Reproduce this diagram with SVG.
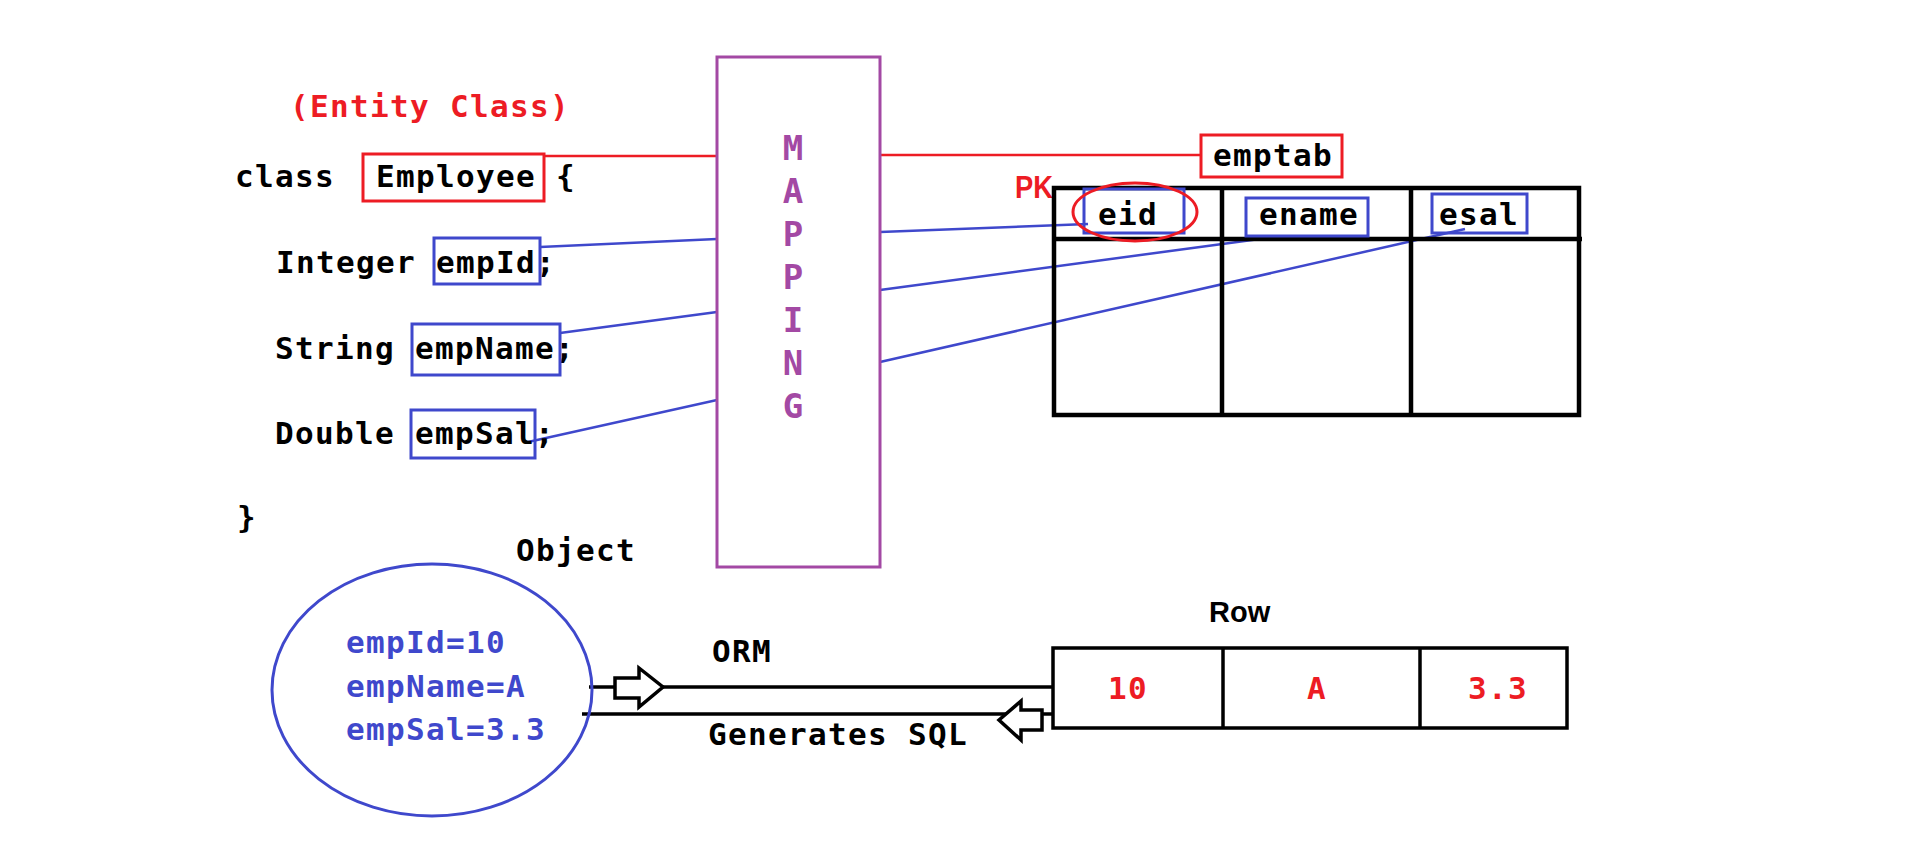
<svg xmlns="http://www.w3.org/2000/svg" width="1914" height="841" viewBox="0 0 1914 841">
<style>
.t{font-family:"DejaVu Sans Mono","Liberation Mono",monospace;font-weight:bold;font-size:31px;letter-spacing:1.34px;fill:#000}
.red{fill:#ed1c24}
.blue{fill:#3f48cc}
.sans{font-family:"Liberation Sans","Noto Sans",sans-serif;font-weight:bold;letter-spacing:0}
.rbox{fill:none;stroke:#ed1c24;stroke-width:3}
.bbox{fill:none;stroke:#3f48cc;stroke-width:3}
.bl{fill:none;stroke:#3f48cc;stroke-width:2.5}
.rl{fill:none;stroke:#ed1c24;stroke-width:2.5}
.k{fill:none;stroke:#000;stroke-width:3.5}
.tk{fill:none;stroke:#000;stroke-width:4.5}
.arr{fill:#fff;stroke:#000;stroke-width:3.5;stroke-linejoin:miter}
.map{font-family:"DejaVu Sans Mono","Liberation Mono",monospace;font-weight:bold;font-size:34px;fill:#a349a4;text-anchor:middle}
</style>
<rect width="1914" height="841" fill="#fff"/>

<g id="connectors">
  <line class="rl" x1="544" y1="156" x2="717" y2="156"/>
  <line class="rl" x1="880" y1="155" x2="1200" y2="155"/>
  <line class="bl" x1="540" y1="247" x2="717" y2="239"/>
  <line class="bl" x1="560" y1="333" x2="717" y2="312"/>
  <line class="bl" x1="528" y1="442" x2="717" y2="400"/>
  <line class="bl" x1="880" y1="232" x2="1088" y2="224"/>
  <line class="bl" x1="880" y1="290" x2="1267" y2="238"/>
  <line class="bl" x1="880" y1="362" x2="1465" y2="229"/>
  <line class="k" x1="589" y1="687" x2="1053" y2="687"/>
  <line class="k" x1="582" y1="714" x2="1053" y2="714"/>
  <polygon class="arr" points="615,678 639,678 639,668 663,687 639,707 639,698 615,698"/>
  <polygon class="arr" points="1042,710 1021,710 1021,701 999,720 1021,740 1021,730 1042,730"/>
  <text class="t" x="712" y="662">ORM</text>
  <text class="t" x="708" y="745">Generates SQL</text>
</g>

<g id="entity-class">
  <text class="t red" x="290" y="117">(Entity Class)</text>
  <text class="t" x="235" y="187">class</text>
  <rect class="rbox" x="363" y="154" width="181" height="47"/>
  <text class="t" x="376" y="187">Employee</text>
  <text class="t" x="556" y="187">{</text>
  <text class="t" x="276" y="273">Integer empId;</text>
  <rect class="bbox" x="434" y="238" width="106" height="46"/>
  <text class="t" x="275" y="359">String empName;</text>
  <rect class="bbox" x="412" y="324" width="148" height="51"/>
  <text class="t" x="275" y="444">Double empSal;</text>
  <rect class="bbox" x="411" y="410" width="124" height="48"/>
  <text class="t" x="237" y="528">}</text>
</g>

<g id="mapping">
  <rect x="717" y="57" width="163" height="510" fill="none" stroke="#a349a4" stroke-width="3"/>
  <text class="map" x="793" y="160">M</text>
  <text class="map" x="793" y="203">A</text>
  <text class="map" x="793" y="246">P</text>
  <text class="map" x="793" y="289">P</text>
  <text class="map" x="793" y="332">I</text>
  <text class="map" x="793" y="375">N</text>
  <text class="map" x="793" y="418">G</text>
</g>

<g id="emptab">
  <rect class="rbox" x="1201" y="135" width="141" height="42"/>
  <text class="t" x="1213" y="166">emptab</text>
  <text class="t red sans" x="1015" y="198" style="font-size:32px" textLength="38" lengthAdjust="spacingAndGlyphs">PK</text>
  <rect class="tk" x="1054" y="188" width="525" height="227"/>
  <line class="tk" x1="1054" y1="239" x2="1582" y2="239"/>
  <line class="tk" x1="1222" y1="188" x2="1222" y2="415"/>
  <line class="tk" x1="1411" y1="188" x2="1411" y2="415"/>
  <rect class="bbox" x="1084" y="189" width="100" height="44"/>
  <text class="t" x="1098" y="225">eid</text>
  <ellipse cx="1135" cy="212" rx="62" ry="29" fill="none" stroke="#ed1c24" stroke-width="3"/>
  <rect class="bbox" x="1246" y="198" width="122" height="38"/>
  <text class="t" x="1259" y="225">ename</text>
  <rect class="bbox" x="1432" y="194" width="95" height="39"/>
  <text class="t" x="1439" y="225">esal</text>
</g>

<g id="object">
  <text class="t" x="516" y="561">Object</text>
  <ellipse cx="432" cy="690" rx="160" ry="126" fill="none" stroke="#3f48cc" stroke-width="3"/>
  <text class="t blue" x="346" y="653">empId=10</text>
  <text class="t blue" x="346" y="697">empName=A</text>
  <text class="t blue" x="346" y="740">empSal=3.3</text>
</g>

<g id="row">
  <text class="t sans" x="1209" y="622" style="font-size:29px">Row</text>
  <rect class="k" x="1053" y="648" width="514" height="80"/>
  <line class="k" x1="1223" y1="648" x2="1223" y2="728"/>
  <line class="k" x1="1420" y1="648" x2="1420" y2="728"/>
  <text class="t red" x="1108" y="699">10</text>
  <text class="t red" x="1307" y="699">A</text>
  <text class="t red" x="1468" y="699">3.3</text>
</g>
</svg>
